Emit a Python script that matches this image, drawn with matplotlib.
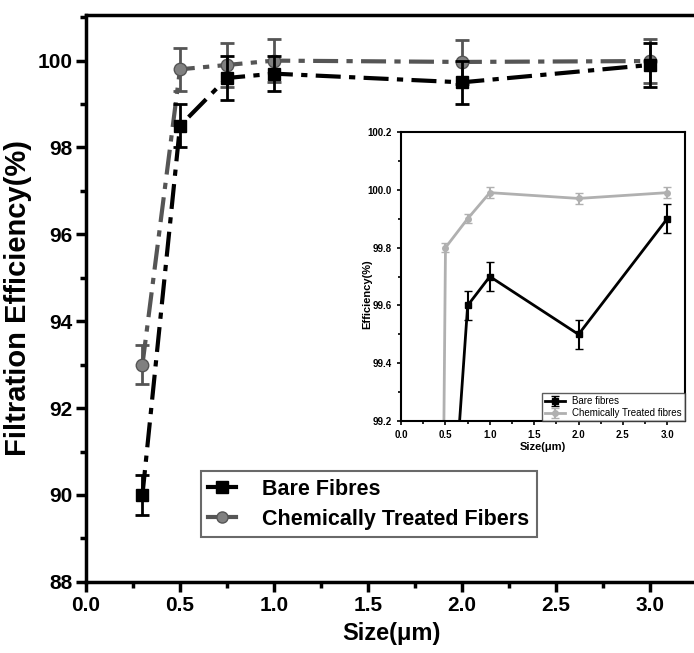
import matplotlib.pyplot as plt
from matplotlib.ticker import MultipleLocator, FormatStrFormatter
from matplotlib.lines import Line2D

# data
size = [0.3, 0.5, 0.75, 1.0, 2.0, 3.0]
bare = [90.0, 98.5, 99.6, 99.7, 99.5, 99.9]
bare_err = [0.45, 0.5, 0.5, 0.4, 0.5, 0.5]
treated = [93.0, 99.8, 99.9, 100.0, 99.97, 99.99]
treated_err = [0.45, 0.5, 0.5, 0.5, 0.5, 0.5]

# inset values (zoomed)
in_bare = [90.0, 98.5, 99.6, 99.7, 99.5, 99.9]
in_bare_err = [0.05, 0.05, 0.05, 0.05, 0.05, 0.05]
in_treated = [93.0, 99.8, 99.9, 99.99, 99.97, 99.99]
in_treated_err = [0.02, 0.015, 0.015, 0.02, 0.02, 0.02]

narrow = ['Liberation Sans Narrow', 'Liberation Sans', 'DejaVu Sans']
wide = ['Liberation Sans', 'DejaVu Sans']

fig = plt.figure(figsize=(6.94, 6.53), dpi=100)
ax = fig.add_axes([0.124, 0.109, 0.88, 0.868])

ax.errorbar(size, bare, yerr=bare_err, color='black', ls=(0, (6, 2, 1.5, 2)), lw=3,
            marker='s', ms=9, capsize=5, capthick=2, elinewidth=2, zorder=3)
ax.errorbar(size, treated, yerr=treated_err, color='#555555', ls=(0, (6, 2, 1.5, 2)), lw=3,
            marker='o', ms=9, mfc='#808080', mec='#555555', capsize=5, capthick=2, elinewidth=2,
            zorder=2)

ax.set_xlim(0, 3.25)
ax.set_ylim(88, 101.05)
ax.xaxis.set_major_locator(MultipleLocator(0.5))
ax.xaxis.set_minor_locator(MultipleLocator(0.25))
ax.yaxis.set_major_locator(MultipleLocator(2))
ax.yaxis.set_minor_locator(MultipleLocator(1))
ax.tick_params(which='major', length=7, width=2.5, direction='out', labelsize=15, pad=3)
ax.tick_params(which='minor', length=4, width=2.5, direction='out')
for s in ['left', 'bottom', 'top']:
    ax.spines[s].set_linewidth(2.5)
ax.spines['right'].set_visible(False)
for lab in ax.get_xticklabels() + ax.get_yticklabels():
    lab.set_family(narrow)
    lab.set_fontweight('bold')
ax.set_xlabel('Size(\u03bcm)', fontsize=17, fontweight='bold', family=narrow, labelpad=5)
ax.set_ylabel('Filtration Efficiency(%)', fontsize=21, fontweight='bold', family=wide, labelpad=4)

handles = [Line2D([], [], color='black', lw=3, marker='s', ms=8),
           Line2D([], [], color='#555555', lw=3, marker='o', ms=8, mfc='#808080')]
leg = ax.legend(handles, ['Bare Fibres', 'Chemically Treated Fibers'], loc='lower left',
                bbox_to_anchor=(0.17, 0.06), prop={'family': wide, 'weight': 'bold', 'size': 15.5},
                fancybox=False, edgecolor='#444444', handlelength=1.3, handletextpad=1.2,
                borderpad=0.35, labelspacing=0.4)
leg.get_frame().set_linewidth(1.5)

# inset
ins = fig.add_axes([0.578, 0.355, 0.409, 0.443])
ins.errorbar(size, in_bare, yerr=in_bare_err, color='black', lw=2, marker='s', ms=4,
             capsize=3, elinewidth=1.5, label='Bare fibres', zorder=3)
ins.errorbar(size, in_treated, yerr=in_treated_err, color='#b0b0b0', lw=2, marker='o', ms=4,
             capsize=3, elinewidth=1.5, label='Chemically Treated fibres', zorder=2)
ins.set_xlim(0, 3.2)
ins.set_ylim(99.2, 100.2)
ins.xaxis.set_major_locator(MultipleLocator(0.5))
ins.xaxis.set_minor_locator(MultipleLocator(0.25))
ins.yaxis.set_major_locator(MultipleLocator(0.2))
ins.yaxis.set_minor_locator(MultipleLocator(0.1))
ins.yaxis.set_major_formatter(FormatStrFormatter('%.1f'))
ins.tick_params(which='major', length=3, width=1.2, labelsize=7)
ins.tick_params(which='minor', length=2, width=1.2)
for s in ins.spines.values():
    s.set_linewidth(1.5)
for lab in ins.get_xticklabels() + ins.get_yticklabels():
    lab.set_family(narrow)
    lab.set_fontweight('bold')
ins.set_xlabel('Size(\u03bcm)', fontsize=8, fontweight='bold', family=wide, labelpad=1)
ins.set_ylabel('Efficiency(%)', fontsize=8, fontweight='bold', family=wide, labelpad=1)
ins.yaxis.set_label_coords(-0.1, 0.44)
ileg = ins.legend(loc='lower right', prop={'family': wide, 'size': 7}, fancybox=False,
                  edgecolor='#333333', borderaxespad=0, handlelength=2, borderpad=0.3, labelspacing=0.2)
ileg.get_frame().set_linewidth(1)

fig.savefig('out.png', dpi=100)
